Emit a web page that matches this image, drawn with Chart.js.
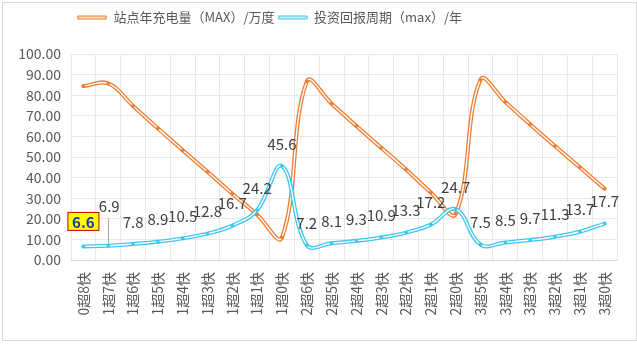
<!DOCTYPE html>
<html>
<head>
<meta charset="utf-8">
<script src="https://cdn.jsdelivr.net/npm/chart.js@4.4.1/dist/chart.umd.min.js"></script>
<style>
  html, body { margin: 0; padding: 0; background: #fff; }
  #wrap { position: relative; width: 637px; height: 350px; }
  #frame { position: absolute; left: 2px; top: 2px; width: 635px; height: 339px; border: 1px solid #d9d9d9; box-sizing: border-box; }
  #chart { position: absolute; left: 0; top: 0; }
</style>
</head>
<body>
<div id="wrap">
  <div id="frame"></div>
  <canvas id="chart" width="637" height="350"></canvas>
</div>
<script>
// station configs: n super chargers + m fast chargers
const categories = [
  '0超8快', '1超7快', '1超6快', '1超5快', '1超4快', '1超3快', '1超2快', '1超1快', '1超0快',
  '2超6快', '2超5快', '2超4快', '2超3快', '2超2快', '2超1快', '2超0快',
  '3超5快', '3超4快', '3超3快', '3超2快', '3超1快', '3超0快'
];

// 站点年充电量 (万度)
const chargeVolume = [
  84.4, 85.7, 74.8, 63.9, 53.3, 42.8, 32.2, 22.0, 10.9,
  86.7, 75.9, 65.0, 54.5, 43.9, 32.8, 22.4,
  87.5, 76.7, 65.9, 55.3, 45.0, 34.6
];

// 投资回报周期 (年)
const paybackYears = [
  6.6, 6.9, 7.8, 8.9, 10.5, 12.8, 16.7, 24.2, 45.6,
  7.2, 8.1, 9.3, 10.9, 13.3, 17.2, 24.7,
  7.5, 8.5, 9.7, 11.3, 13.7, 17.7
];

const seriesNames = ['站点年充电量（MAX）/万度', '投资回报周期（max）/年'];
const yMin = 0;
const yMax = 100;
const yStep = 10;

const ORANGE = '#ED7D31';
const CYAN = '#3EC6EF';
const TEXT = '#595959';
const FONT = '"Microsoft YaHei", "Noto Sans CJK SC", sans-serif';

// the first label gets a highlight box, the second one sits higher with a leader line
const highlightIndex = 0;
const leaderIndex = 1;

Chart.defaults.font.family = FONT;
Chart.defaults.color = TEXT;

// legend swatch: coloured line with a white core
function makeLegendIcon(color) {
  const c = document.createElement('canvas');
  c.width = 30;
  c.height = 8;
  const g = c.getContext('2d');
  g.lineCap = 'round';
  g.strokeStyle = color;
  g.lineWidth = 4;
  g.beginPath(); g.moveTo(2, 4); g.lineTo(28, 4); g.stroke();
  g.strokeStyle = '#fff';
  g.lineWidth = 1.4;
  g.beginPath(); g.moveTo(2, 4); g.lineTo(28, 4); g.stroke();
  return c;
}

function outerLine(label, data, color, order) {
  return {
    label: label,
    data: data,
    borderColor: color,
    backgroundColor: color,
    borderWidth: 4,
    borderJoinStyle: 'round',
    borderCapStyle: 'round',
    pointRadius: 0,
    pointHoverRadius: 0,
    pointStyle: makeLegendIcon(color),
    tension: 0.4,
    order: order
  };
}

function innerLine(data, color, order) {
  return {
    label: '',
    data: data,
    borderColor: '#ffffff',
    borderWidth: 1.4,
    borderJoinStyle: 'round',
    borderCapStyle: 'round',
    pointRadius: 1.8,
    pointBackgroundColor: color,
    pointBorderWidth: 0,
    tension: 0.4,
    order: order
  };
}

const valueLabels = {
  id: 'valueLabels',
  afterDatasetsDraw(chart) {
    const ctx = chart.ctx;
    const meta = chart.getDatasetMeta(2);
    ctx.save();
    ctx.textAlign = 'center';
    ctx.textBaseline = 'middle';
    meta.data.forEach((pt, i) => {
      const text = paybackYears[i].toFixed(1);
      if (i === highlightIndex) {
        const cy = pt.y - 25;
        ctx.fillStyle = '#FFFF00';
        ctx.fillRect(pt.x - 15.5, cy - 9, 31, 18);
        ctx.strokeStyle = '#C00000';
        ctx.lineWidth = 1;
        ctx.strokeRect(pt.x - 15.5, cy - 9, 31, 18);
        ctx.font = 'bold 15px ' + FONT;
        ctx.fillStyle = '#1F3A93';
        ctx.fillText(text, pt.x, cy + 1);
        return;
      }
      ctx.font = '15px ' + FONT;
      ctx.fillStyle = '#404040';
      if (i === leaderIndex) {
        ctx.strokeStyle = '#a6a6a6';
        ctx.lineWidth = 1;
        ctx.beginPath();
        ctx.moveTo(Math.round(pt.x) + 0.5, pt.y - 27);
        ctx.lineTo(Math.round(pt.x) + 0.5, pt.y);
        ctx.stroke();
        ctx.fillText(text, pt.x + 1, pt.y - 39);
        return;
      }
      ctx.fillText(text, pt.x, pt.y - 22);
    });
    ctx.restore();
  }
};

// legend row sits near the top edge, starting over the first category
const legendShift = {
  id: 'legendShift',
  beforeDraw(chart) {
    const lg = chart.legend;
    const w = lg.right - lg.left;
    const h = lg.bottom - lg.top;
    lg.left = 74;
    lg.right = 74 + w;
    lg.top = 8;
    lg.bottom = 8 + h;
  }
};

new Chart(document.getElementById('chart'), {
  type: 'line',
  data: {
    labels: categories,
    datasets: [
      outerLine(seriesNames[0], chargeVolume, ORANGE, 4),
      innerLine(chargeVolume, ORANGE, 3),
      outerLine(seriesNames[1], paybackYears, CYAN, 2),
      innerLine(paybackYears, CYAN, 1)
    ]
  },
  options: {
    responsive: false,
    animation: false,
    devicePixelRatio: 1,
    layout: { padding: { left: 0, right: 20, top: 28, bottom: 0 } },
    plugins: {
      tooltip: { enabled: false },
      legend: {
        position: 'top',
        align: 'start',
        labels: {
          usePointStyle: true,
          pointStyleWidth: 30,
          boxHeight: 8,
          padding: 3,
          color: TEXT,
          font: { size: 13 },
          filter: item => item.datasetIndex % 2 === 0,
          sort: (a, b) => a.datasetIndex - b.datasetIndex
        }
      }
    },
    scales: {
      x: {
        offset: true,
        grid: { offset: true, color: '#e8e8e8', drawTicks: false },
        border: { color: '#d4d4d4' },
        ticks: {
          autoSkip: false,
          maxRotation: 90,
          minRotation: 90,
          padding: 12,
          color: TEXT,
          font: { size: 14 }
        },
        afterFit: scale => { scale.height = 90; }
      },
      y: {
        min: yMin,
        max: yMax,
        grid: { color: '#e8e8e8', drawTicks: false },
        border: { display: false },
        ticks: {
          stepSize: yStep,
          padding: 10,
          color: TEXT,
          font: { size: 14 },
          callback: v => v.toFixed(2)
        },
        afterFit: scale => { scale.width = 71; }
      }
    }
  },
  plugins: [valueLabels, legendShift]
});
</script>
</body>
</html>
